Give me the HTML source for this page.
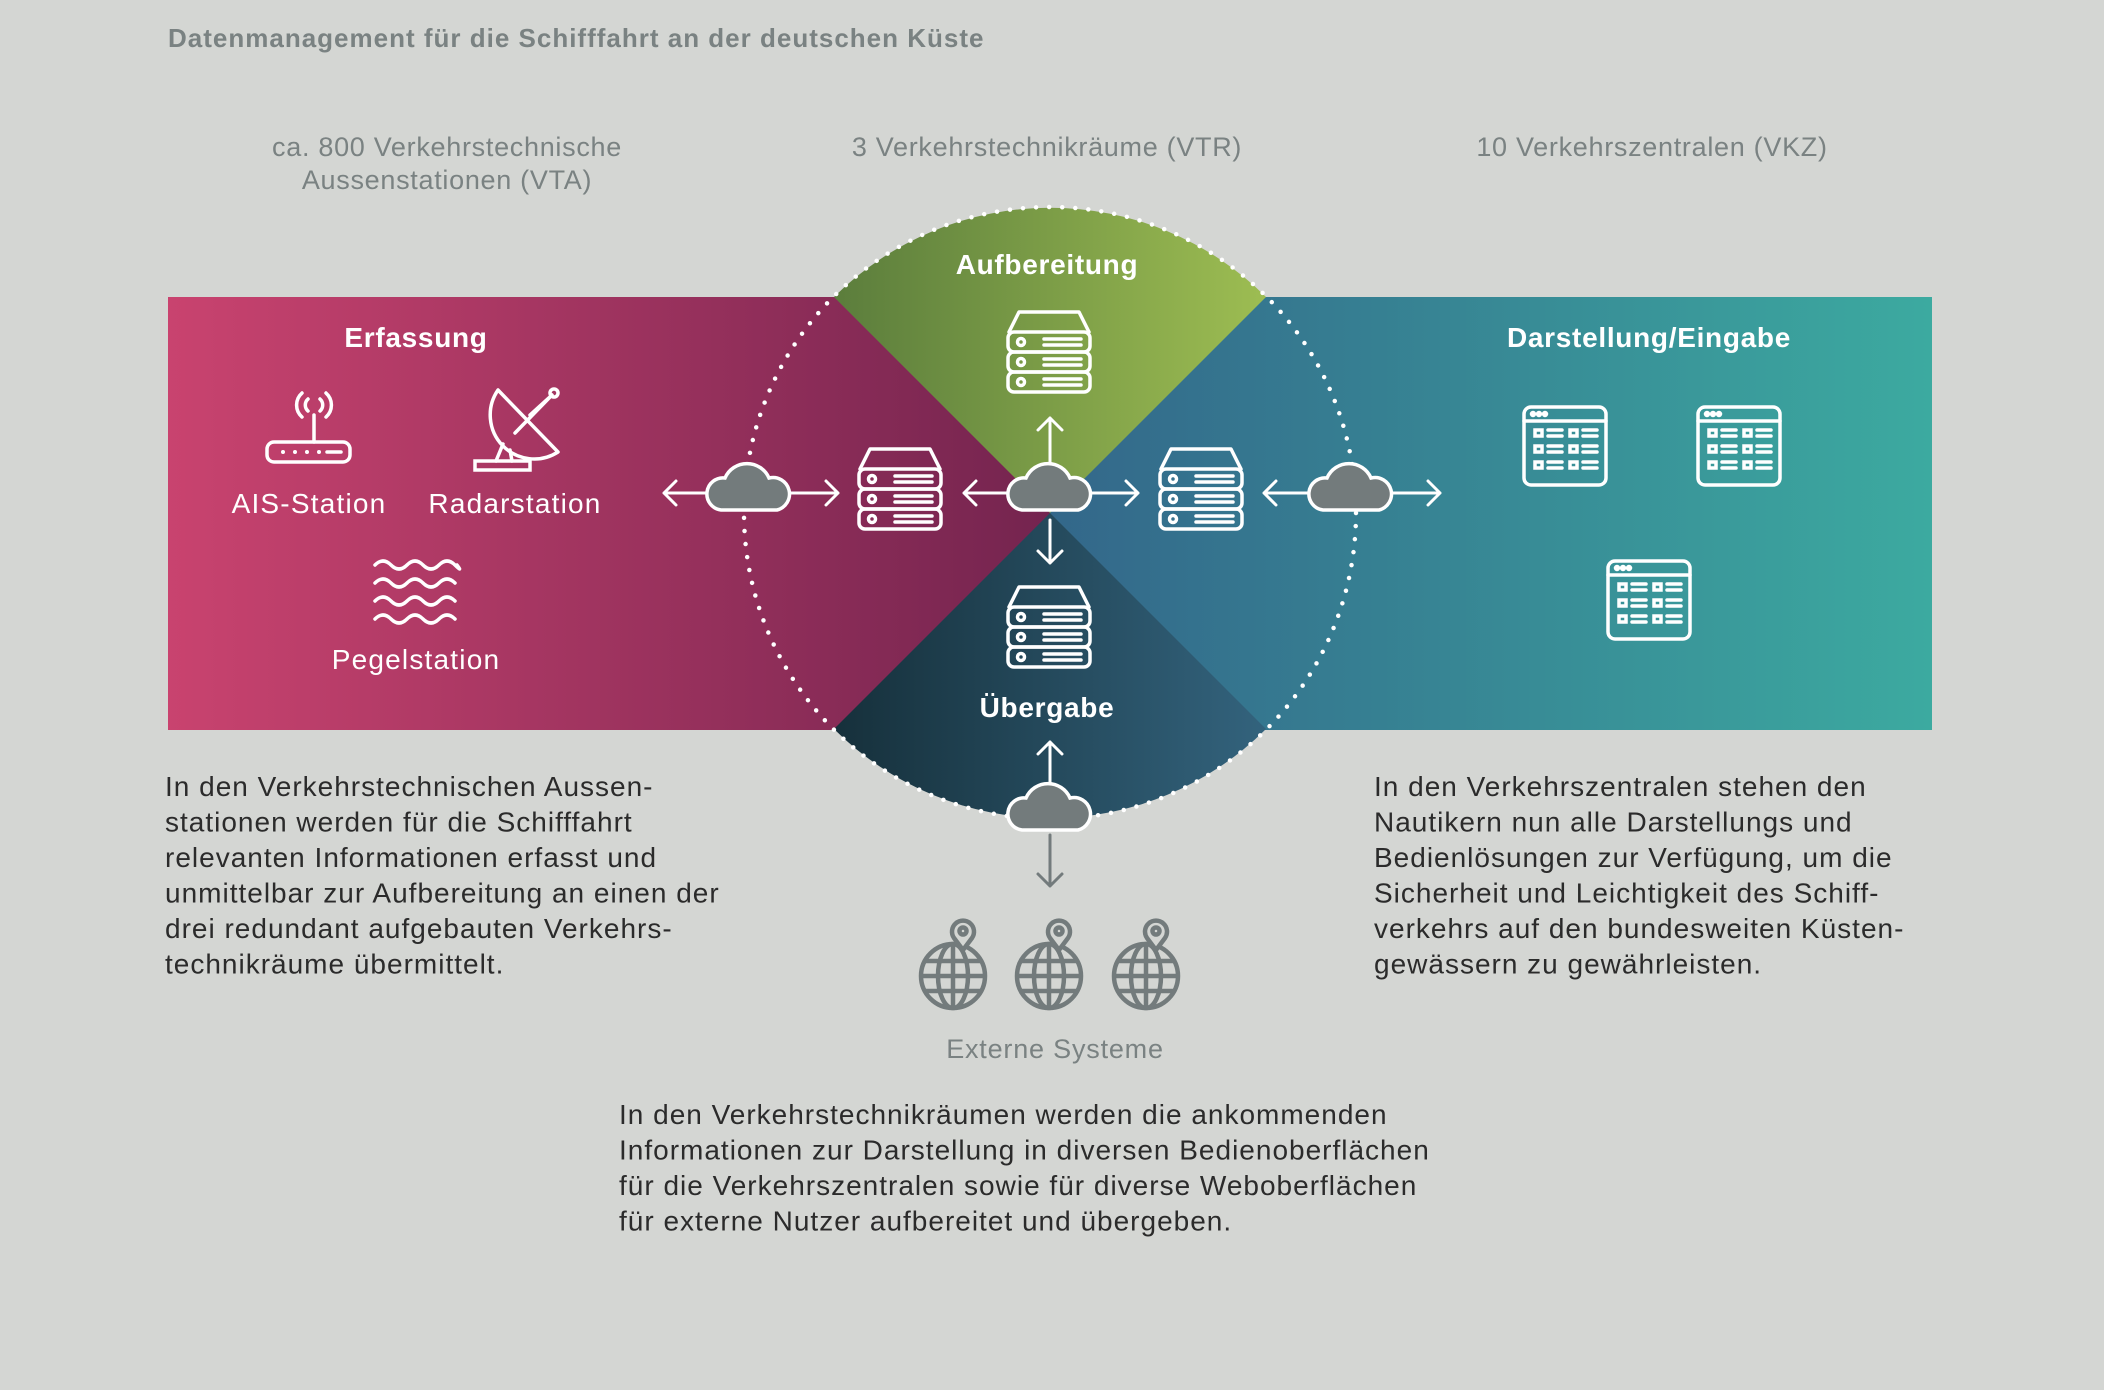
<!DOCTYPE html>
<html><head><meta charset="utf-8"><style>
html,body{margin:0;padding:0;background:#d4d6d3;}
svg{display:block;font-family:"Liberation Sans",sans-serif;}
</style></head><body>
<svg width="2104" height="1390" viewBox="0 0 2104 1390" xmlns="http://www.w3.org/2000/svg">
<defs>
<linearGradient id="gl" gradientUnits="userSpaceOnUse" x1="168" y1="0" x2="1050" y2="0"><stop offset="0" stop-color="#c9436f"/><stop offset="1" stop-color="#74244f"/></linearGradient>
<linearGradient id="gr" gradientUnits="userSpaceOnUse" x1="1050" y1="0" x2="1932" y2="0"><stop offset="0" stop-color="#33678a"/><stop offset="1" stop-color="#3caaa0"/></linearGradient>
<linearGradient id="gg" gradientUnits="userSpaceOnUse" x1="834" y1="0" x2="1266" y2="0"><stop offset="0" stop-color="#5b7d3c"/><stop offset="1" stop-color="#9dbd52"/></linearGradient>
<linearGradient id="gb" gradientUnits="userSpaceOnUse" x1="834" y1="0" x2="1266" y2="0"><stop offset="0" stop-color="#16303b"/><stop offset="1" stop-color="#33637d"/></linearGradient>
<g id="srv" fill="none" stroke="#fff" stroke-width="3.5" stroke-linecap="round" stroke-linejoin="round">
<path d="M-40,-20 L-30,-40 H30 L40,-20"/>
<rect x="-41" y="-20" width="82" height="20" rx="6"/>
<rect x="-41" y="0" width="82" height="20" rx="6"/>
<rect x="-41" y="20" width="82" height="20" rx="6"/>
<circle cx="-28" cy="-10" r="3.5"/><circle cx="-28" cy="10" r="3.5"/><circle cx="-28" cy="30" r="3.5"/>
<path d="M-5,-13H32M-5,-7H32M-5,7H32M-5,13H32M-5,27H32M-5,33H32"/>
</g>
<g id="cld"><path d="M-28,22 A16,16 0 0 1 -24,-10 A24,24 0 0 1 20,-10 A16,16 0 0 1 28,22 Z" fill="#737b7c" stroke="#fff" stroke-width="3.5"/></g>
<g id="win" fill="none" stroke="#fff" stroke-width="3.5" stroke-linecap="round">
<rect x="-41" y="-39" width="82" height="78" rx="7"/>
<path d="M-41,-25H41"/>
<circle cx="-32" cy="-32" r="1.5" fill="#fff"/><circle cx="-26" cy="-32" r="1.5" fill="#fff"/><circle cx="-20" cy="-32" r="1.5" fill="#fff"/>
<rect x="-30" y="-16" width="7" height="6"/><rect x="5" y="-16" width="7" height="6"/>
<rect x="-30" y="0" width="7" height="6"/><rect x="5" y="0" width="7" height="6"/>
<rect x="-30" y="16" width="7" height="6"/><rect x="5" y="16" width="7" height="6"/>
<path d="M-17,-16H-3M-17,-10H-3M18,-16H32M18,-10H32M-17,0H-3M-17,6H-3M18,0H32M18,6H32M-17,16H-3M-17,22H-3M18,16H32M18,22H32"/>
</g>
<g id="glb" fill="none" stroke="#737b7c" stroke-width="4.5">
<circle cx="0" cy="0" r="32"/>
<ellipse cx="0" cy="0" rx="15" ry="32"/>
<path d="M0,-32V32M-32,0H32M-28,-15H28M-28,15H28"/>
<path d="M10,-26 L1,-38 A11,11 0 1 1 19,-38 Z" fill="#d4d6d3"/>
<circle cx="10" cy="-45" r="3.5"/>
</g>
</defs>

<text x="168" y="47" font-size="26" font-weight="bold" fill="#7a8282" letter-spacing="1">Datenmanagement für die Schifffahrt an der deutschen Küste</text>
<g font-size="27" fill="#7a8282" text-anchor="middle" letter-spacing="0.7">
<text x="447" y="156">ca. 800 Verkehrstechnische</text>
<text x="447" y="189">Aussenstationen (VTA)</text>
<text x="1047" y="156">3 Verkehrstechnikräume (VTR)</text>
<text x="1652" y="156">10 Verkehrszentralen (VKZ)</text>
</g>

<rect x="168" y="297" width="882" height="433" fill="url(#gl)"/>
<rect x="1050" y="297" width="882" height="433" fill="url(#gr)"/>
<path d="M1050,513 L834,297 A306,306 0 0 1 1266,297 Z" fill="url(#gg)"/>
<path d="M1050,513 L1266,729 A306,306 0 0 1 834,729 Z" fill="url(#gb)"/>
<circle cx="1050" cy="513" r="306" fill="none" stroke="#fff" stroke-width="4.5" stroke-linecap="round" stroke-dasharray="0 13.1"/>

<g fill="#fff" font-weight="bold" font-size="28" text-anchor="middle" letter-spacing="0.7">
<text x="416" y="347">Erfassung</text>
<text x="1047" y="274">Aufbereitung</text>
<text x="1047" y="717">Übergabe</text>
<text x="1649" y="347">Darstellung/Eingabe</text>
</g>
<g fill="#fff" font-size="28" text-anchor="middle" letter-spacing="1.2">
<text x="309" y="513">AIS-Station</text>
<text x="515" y="513">Radarstation</text>
<text x="416" y="669">Pegelstation</text>
</g>

<g fill="none" stroke="#fff" stroke-width="3.5" stroke-linecap="round">
<rect x="267" y="442" width="83" height="20" rx="7"/>
<path d="M283,452h0M295,452h0M307,452h0M319,452h0" stroke-width="4"/>
<path d="M327,452H341"/>
<path d="M314,442V415"/>
<path d="M308,411a8,8 0 0 1 0,-12M320,399a8,8 0 0 1 0,12M302,417a16,16 0 0 1 0,-24M326,393a16,16 0 0 1 0,24"/>
<rect x="475" y="461" width="55" height="9"/>
<path d="M496,461 L503,444 M510,450 L512,461"/>
<path d="M498,390 A44,44 0 0 0 558,452 Z" stroke-linejoin="round"/>
<path d="M515,433 L552,395 M530,415 L552,395"/>
<circle cx="554" cy="393" r="4"/>
<path d="M375,565 q8,-8 16,0 t16,0 t16,0 t16,0 t16,0 t2,0M375,583 q8,-8 16,0 t16,0 t16,0 t16,0 t16,0M375,601 q8,-8 16,0 t16,0 t16,0 t16,0 t16,0M375,619 q8,-8 16,0 t16,0 t16,0 t16,0 t16,0"/>
</g>

<g fill="none" stroke="#fff" stroke-width="3" stroke-linecap="round" stroke-linejoin="round">
<path d="M664,493H722M676,481L664,493L676,505"/>
<path d="M776,493H838M826,481L838,493L826,505"/>
<path d="M964,493H1022M976,481L964,493L976,505"/>
<path d="M1078,493H1138M1126,481L1138,493L1126,505"/>
<path d="M1050,418V470M1038,430L1050,418L1062,430"/>
<path d="M1050,520V563M1038,551L1050,563L1062,551"/>
<path d="M1264,493H1322M1276,481L1264,493L1276,505"/>
<path d="M1378,493H1440M1428,481L1440,493L1428,505"/>
<path d="M1050,742V790M1038,754L1050,742L1062,754"/>
</g>
<path d="M1050,835V886M1038,874L1050,886L1062,874" fill="none" stroke="#737b7c" stroke-width="3" stroke-linecap="round" stroke-linejoin="round"/>

<use href="#srv" x="900" y="489"/>
<use href="#srv" x="1201" y="489"/>
<use href="#srv" x="1049" y="352"/>
<use href="#srv" x="1049" y="627"/>
<use href="#cld" x="749" y="488"/>
<use href="#cld" x="1050" y="488"/>
<use href="#cld" x="1351" y="488"/>
<use href="#cld" x="1050" y="808"/>
<use href="#win" x="1565" y="446"/>
<use href="#win" x="1739" y="446"/>
<use href="#win" x="1649" y="600"/>
<use href="#glb" x="953" y="976"/>
<use href="#glb" x="1049" y="976"/>
<use href="#glb" x="1146" y="976"/>

<text x="1055" y="1058" font-size="27" fill="#7a8282" text-anchor="middle" letter-spacing="0.8">Externe Systeme</text>

<g font-size="28" fill="#2b2b2b" letter-spacing="1">
<text x="165" y="796">In den Verkehrstechnischen Aussen-</text>
<text x="165" y="831.5">stationen werden für die Schifffahrt</text>
<text x="165" y="867">relevanten Informationen erfasst und</text>
<text x="165" y="902.5">unmittelbar zur Aufbereitung an einen der</text>
<text x="165" y="938">drei redundant aufgebauten Verkehrs-</text>
<text x="165" y="973.5">technikräume übermittelt.</text>
<text x="1374" y="796">In den Verkehrszentralen stehen den</text>
<text x="1374" y="831.5">Nautikern nun alle Darstellungs und</text>
<text x="1374" y="867">Bedienlösungen zur Verfügung, um die</text>
<text x="1374" y="902.5">Sicherheit und Leichtigkeit des Schiff-</text>
<text x="1374" y="938">verkehrs auf den bundesweiten Küsten-</text>
<text x="1374" y="973.5">gewässern zu gewährleisten.</text>
<text x="619" y="1124">In den Verkehrstechnikräumen werden die ankommenden</text>
<text x="619" y="1159.5">Informationen zur Darstellung in diversen Bedienoberflächen</text>
<text x="619" y="1195">für die Verkehrszentralen sowie für diverse Weboberflächen</text>
<text x="619" y="1230.5">für externe Nutzer aufbereitet und übergeben.</text>
</g>
</svg>
</body></html>
